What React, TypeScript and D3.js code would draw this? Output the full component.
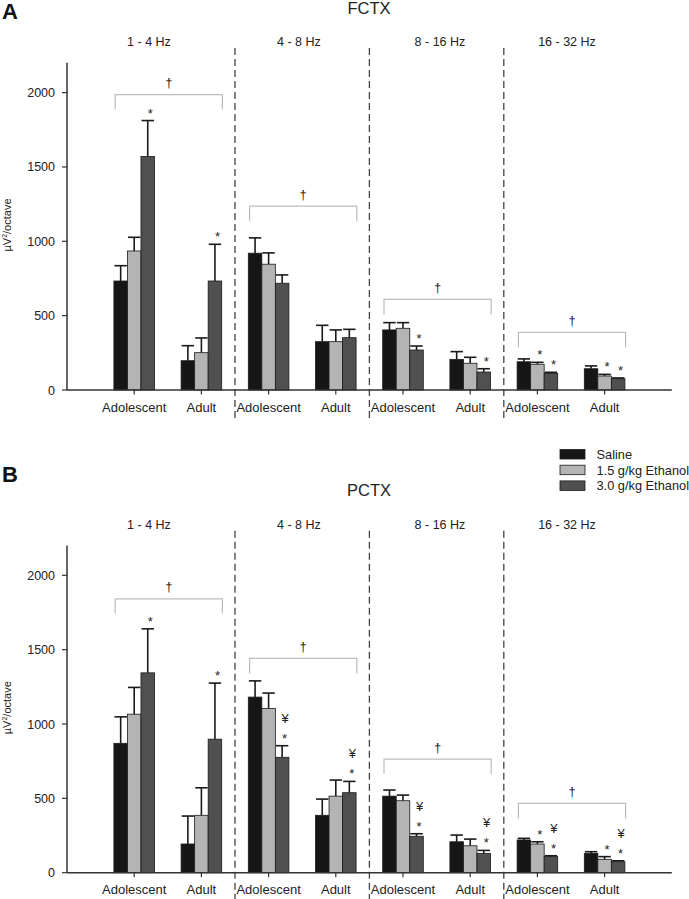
import React from "react";
import * as d3 from "d3";

// ---------- data ----------
const bands = ["1 - 4 Hz", "4 - 8 Hz", "8 - 16 Hz", "16 - 32 Hz"];
const ages = ["Adolescent", "Adult"];
const series = ["Saline", "1.5 g/kg Ethanol", "3.0 g/kg Ethanol"];
const yTicks = [0, 500, 1000, 1500, 2000];

// order: band x age (1-4 Adol, 1-4 Adult, 4-8 Adol, ...)
const fctxSaline = [733, 197, 920, 325, 404, 206, 190, 143];
const fctxSalineErr = [103, 101, 103, 110, 49, 52, 19, 19];
const fctxLow = [935, 251, 846, 325, 415, 180, 173, 94];
const fctxLowErr = [92, 99, 76, 79, 38, 40, 13, 11];
const fctxHigh = [1570, 733, 718, 352, 269, 121, 112, 76];
const fctxHighErr = [242, 247, 56, 56, 27, 22, 7, 5];

const pctxSaline = [870, 193, 1181, 386, 515, 208, 220, 130];
const pctxSalineErr = [178, 188, 109, 109, 41, 45, 11, 11];
const pctxLow = [1066, 386, 1105, 515, 484, 181, 193, 90];
const pctxLowErr = [180, 185, 103, 108, 38, 45, 15, 18];
const pctxHigh = [1344, 898, 776, 538, 245, 130, 108, 74];
const pctxHighErr = [296, 377, 78, 76, 17, 20, 6, 6];

// significance marks per bar
const fctxSalineMarks = ["", "", "", "", "", "", "", ""];
const fctxLowMarks = ["", "", "", "", "", "", "*", "*"];
const fctxHighMarks = ["*", "*", "", "", "*", "*", "*", "*"];
const pctxSalineMarks = ["", "", "", "", "", "", "", ""];
const pctxLowMarks = ["", "", "", "", "", "", "*", "*"];
const pctxHighMarks = ["*", "*", "*¥", "*¥", "*¥", "*¥", "*¥", "*¥"];

// age-effect bracket level per band (µV²/octave)
const fctxBracket = [1987, 1236, 610, 388];
const pctxBracket = [1842, 1441, 764, 466];

const colors = ["#161616", "#b4b4b4", "#505050"];
const FONT = "'Liberation Sans', Arial, Helvetica, sans-serif";

type Panel = {
  letter: string;
  title: string;
  axisY: number;
  means: number[][];
  errs: number[][];
  marks: string[][];
  brackets: number[];
  letterY: number;
  legend: boolean;
};

const panels: Panel[] = [
  {
    letter: "A",
    title: "FCTX",
    axisY: 390,
    means: [fctxSaline, fctxLow, fctxHigh],
    errs: [fctxSalineErr, fctxLowErr, fctxHighErr],
    marks: [fctxSalineMarks, fctxLowMarks, fctxHighMarks],
    brackets: fctxBracket,
    letterY: 19,
    legend: false,
  },
  {
    letter: "B",
    title: "PCTX",
    axisY: 872.7,
    means: [pctxSaline, pctxLow, pctxHigh],
    errs: [pctxSalineErr, pctxLowErr, pctxHighErr],
    marks: [pctxSalineMarks, pctxLowMarks, pctxHighMarks],
    brackets: pctxBracket,
    letterY: 481.5,
    legend: true,
  },
];

const x = d3.scaleLinear().domain([0, 9]).range([67, 671.8]);
const sub = d3.scaleBand<string>().domain(series).range([-20.3, 20.3]).padding(0);
const bandLabelX = [1.22, 3.45, 5.55, 7.44];

function PanelView({ p }: { p: Panel }) {
  const y = d3
    .scaleLinear()
    .domain([0, 2200])
    .range([p.axisY, p.axisY - (2200 * 74.35) / 500]);
  const cats: { band: number; age: number; pos: number; idx: number }[] = [];
  bands.forEach((b, bi) =>
    ages.forEach((a, ai) => cats.push({ band: bi, age: ai, pos: bi * 2 + ai + 1, idx: bi * 2 + ai }))
  );
  const top = y(2200);
  const bw = sub.bandwidth();
  return (
    <g>
      <text x={2} y={p.letterY} fontFamily={FONT} fontWeight="bold" fontSize={22} fill="#111">
        {p.letter}
      </text>
      <text x={369} y={p.axisY - 376.5} textAnchor="middle" fontFamily={FONT} fontSize={16.5} fill="#222">
        {p.title}
      </text>
      {bands.map((b, bi) => (
        <text
          key={b}
          x={x(bandLabelX[bi])}
          y={p.axisY - 344}
          textAnchor="middle"
          fontFamily={FONT}
          fontSize={12.5}
          fill="#222"
        >
          {b}
        </text>
      ))}
      {/* dividers */}
      {[2.5, 4.5, 6.5].map((d) => (
        <line
          key={d}
          x1={x(d)}
          x2={x(d)}
          y1={p.axisY - 342}
          y2={p.axisY + 28}
          stroke="#444"
          strokeWidth={1.3}
          strokeDasharray="7,4"
        />
      ))}
      {/* brackets */}
      {p.brackets.map((v, bi) => {
        const x1 = x(bi * 2 + 1) - 19;
        const x2 = x(bi * 2 + 2) + 21;
        const yy = y(v);
        return (
          <g key={bi}>
            <path
              d={`M${x1},${yy + 15}V${yy}H${x2}V${yy + 15}`}
              fill="none"
              stroke="#bdbdbd"
              strokeWidth={1.2}
            />
            <text
              x={(x1 + x2) / 2}
              y={yy - 7.5}
              textAnchor="middle"
              fontFamily={FONT}
              fontSize={13}
              fill="#222"
            >
              †
            </text>
          </g>
        );
      })}
      {/* bars */}
      {series.map((s, si) =>
        cats.map((c) => {
          const cx = x(c.pos) + (sub(s) as number);
          const v = p.means[si][c.idx];
          const e = p.errs[si][c.idx];
          const mid = cx + bw / 2;
          const errTop = y(v + e);
          const mk = p.marks[si][c.idx];
          return (
            <g key={s + c.idx}>
              <line x1={mid} x2={mid} y1={y(v)} y2={errTop} stroke="#1a1a1a" strokeWidth={1.6} />
              <line x1={mid - 6.2} x2={mid + 6.2} y1={errTop} y2={errTop} stroke="#1a1a1a" strokeWidth={1.6} />
              <rect
                x={cx}
                y={y(v)}
                width={bw}
                height={p.axisY - y(v)}
                fill={colors[si]}
                stroke="#1a1a1a"
                strokeWidth={0.8}
              />
              {mk.includes("*") && (
                <text x={mid + 2.5} y={errTop - 3} textAnchor="middle" fontFamily={FONT} fontSize={13} fill="#222">
                  *
                </text>
              )}
              {mk.includes("¥") && (
                <text x={mid + 3} y={errTop - 23} textAnchor="middle" fontFamily={FONT} fontSize={13} fill="#222">
                  ¥
                </text>
              )}
            </g>
          );
        })
      )}
      {/* y axis */}
      <line x1={x(0)} x2={x(0)} y1={top} y2={p.axisY} stroke="#333" strokeWidth={1.5} />
      {yTicks.map((t) => (
        <g key={t}>
          <line x1={x(0) - 5} x2={x(0)} y1={y(t)} y2={y(t)} stroke="#333" strokeWidth={1.2} />
          <text
            x={x(0) - 12}
            y={y(t) + 4.5}
            textAnchor="end"
            fontFamily={FONT}
            fontSize={12.5}
            fill="#222"
          >
            {t}
          </text>
        </g>
      ))}
      <text
        transform={`translate(11,${p.axisY - 165}) rotate(-90)`}
        textAnchor="middle"
        fontFamily={FONT}
        fontSize={11}
        fill="#222"
      >
        µV
        <tspan dy={-4} fontSize={7}>
          2
        </tspan>
        <tspan dy={4}>/octave</tspan>
      </text>
      {/* x axis */}
      <line x1={x(0)} x2={x(9)} y1={p.axisY} y2={p.axisY} stroke="#333" strokeWidth={1.5} />
      {cats.map((c) => (
        <g key={"t" + c.idx}>
          <line x1={x(c.pos)} x2={x(c.pos)} y1={p.axisY} y2={p.axisY + 4.5} stroke="#333" strokeWidth={1.2} />
          <text
            x={x(c.pos)}
            y={p.axisY + 21.5}
            textAnchor="middle"
            fontFamily={FONT}
            fontSize={13}
            fill="#222"
          >
            {ages[c.age]}
          </text>
        </g>
      ))}
      {p.legend &&
        series.map((s, si) => (
          <g key={s}>
            <rect
              x={560}
              y={449.5 + si * 15.7}
              width={25}
              height={9.5}
              fill={colors[si]}
              stroke="#1a1a1a"
              strokeWidth={0.8}
            />
            <text x={596.5} y={458.8 + si * 15.7} fontFamily={FONT} fontSize={12.8} fill="#222">
              {s}
            </text>
          </g>
        ))}
    </g>
  );
}

export default function App() {
  return (
    <svg
      width={689}
      height={899}
      style={{ position: "absolute", left: 0, top: 0, background: "#fff" }}
    >
      <rect width={689} height={899} fill="#fff" />
      {panels.map((p) => (
        <PanelView key={p.letter} p={p} />
      ))}
    </svg>
  );
}
